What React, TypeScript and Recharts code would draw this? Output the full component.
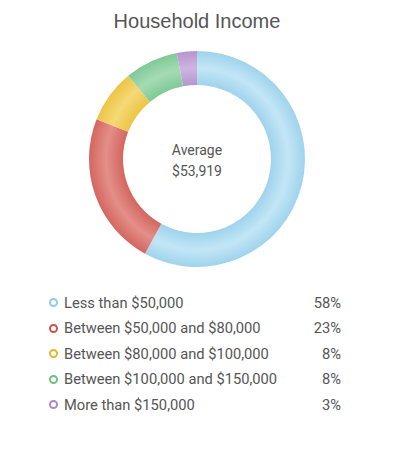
import { PieChart, Pie, Cell, Label } from "recharts"

const categories = [
    "Less than $50,000",
    "Between $50,000 and $80,000",
    "Between $80,000 and $100,000",
    "Between $100,000 and $150,000",
    "More than $150,000",
]
const shares = [58, 23, 8, 8, 3]
const averageLabel = "$53,919"

// base, light band, marker stroke
const COLORS = [
    { dark: "#9fd3ec", light: "#c3e6f6", marker: "#8fcbe6" },
    { dark: "#d4665f", light: "#e38f89", marker: "#c9554e" },
    { dark: "#ecc543", light: "#f5d978", marker: "#e2b92e" },
    { dark: "#7fc996", light: "#a5dbb4", marker: "#6fbf88" },
    { dark: "#b595cf", light: "#cdb5e0", marker: "#a98ac6" },
]

const CX = 197
const CY = 159
const INNER = 74
const OUTER = 108

const data = categories.map((name, i) => ({ name, value: shares[i] }))

function CenterLabel({ viewBox }: any) {
    const cx = viewBox?.cx ?? CX
    const cy = viewBox?.cy ?? CY
    return (
        <g>
            <text x={cx} y={cy - 4} textAnchor="middle" fontFamily="Roboto" fontSize={14} fill="#555">
                Average
            </text>
            <text x={cx} y={cy + 17} textAnchor="middle" fontFamily="Roboto" fontSize={14} fill="#555">
                {averageLabel}
            </text>
        </g>
    )
}

function LegendList() {
    return (
        <div
            style={{
                position: "absolute",
                top: 290,
                left: 49,
                width: 292,
                fontFamily: "Roboto",
                fontSize: 14.7,
                color: "#555",
            }}
        >
            {categories.map((name, i) => (
                <div key={name} style={{ display: "flex", alignItems: "center", height: 25.5 }}>
                    <span
                        style={{
                            width: 5,
                            height: 5,
                            borderRadius: "50%",
                            border: `2.5px solid ${COLORS[i].marker}`,
                            marginRight: 6,
                            flexShrink: 0,
                        }}
                    />
                    <span style={{ flex: 1 }}>{name}</span>
                    <span>{shares[i]}%</span>
                </div>
            ))}
        </div>
    )
}

export default function App() {
    return (
        <div style={{ position: "absolute", left: 0, top: 0, width: 394, height: 453, background: "#fff" }}>
            <div
                style={{
                    position: "absolute",
                    top: 10,
                    width: 394,
                    textAlign: "center",
                    fontFamily: "Liberation Sans, Arial",
                    fontSize: 20,
                    color: "#555",
                }}
            >
                Household Income
            </div>
            <PieChart width={394} height={453} margin={{ top: 0, right: 0, bottom: 0, left: 0 }}>
                <defs>
                    {COLORS.map((c, i) => (
                        <radialGradient
                            key={i}
                            id={`ring-${i}`}
                            gradientUnits="userSpaceOnUse"
                            cx={CX}
                            cy={CY}
                            r={OUTER}
                        >
                            <stop offset={INNER / OUTER} stopColor={c.dark} />
                            <stop offset={(INNER + OUTER) / 2 / OUTER} stopColor={c.light} />
                            <stop offset={1} stopColor={c.dark} />
                        </radialGradient>
                    ))}
                </defs>
                <Pie
                    data={data}
                    dataKey="value"
                    nameKey="name"
                    cx={CX}
                    cy={CY}
                    innerRadius={INNER}
                    outerRadius={OUTER}
                    startAngle={90}
                    endAngle={-270}
                    stroke="none"
                    isAnimationActive={false}
                >
                    {data.map((d, i) => (
                        <Cell key={d.name} fill={`url(#ring-${i})`} />
                    ))}
                    <Label content={<CenterLabel />} position="center" />
                </Pie>
            </PieChart>
            <LegendList />
        </div>
    )
}
